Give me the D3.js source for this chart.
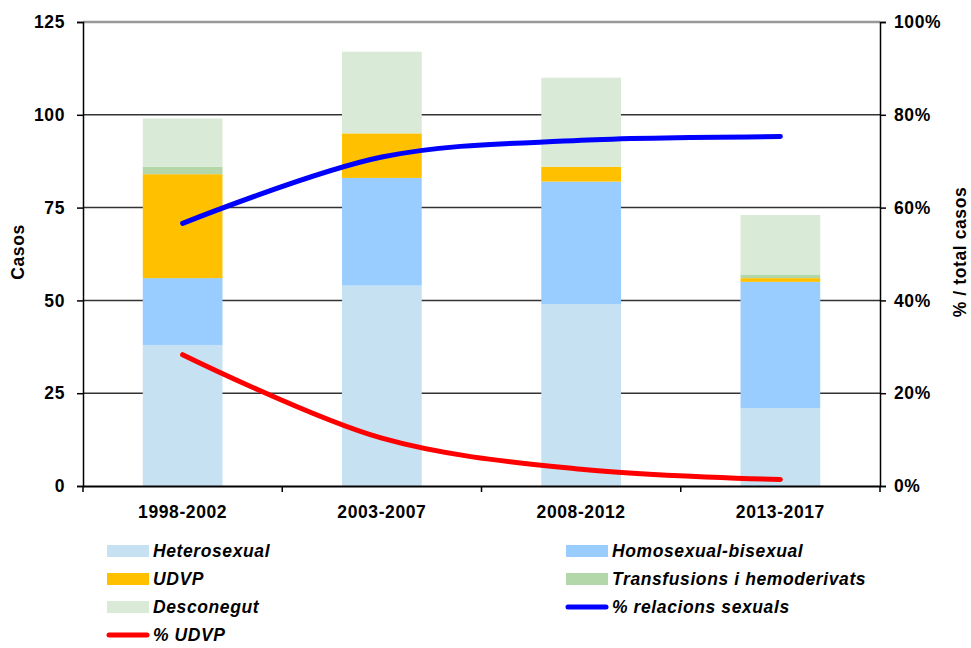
<!DOCTYPE html>
<html>
<head>
<meta charset="utf-8">
<script src="https://d3js.org/d3.v7.min.js"></script>
<style>
  body { margin: 0; background: #fff; }
  svg { font-family: "Liberation Sans", Arial, sans-serif; }
</style>
</head>
<body>
<svg width="971" height="648"></svg>
<script>
// data
var periods = ["1998-2002", "2003-2007", "2008-2012", "2013-2017"];
var heterosexual = [38, 54, 49, 21];
var homosexual = [18, 29, 33, 34];
var udvp = [28, 12, 4, 1];
var transfusions = [2, 0, 0, 1];
var desconegut = [13, 22, 24, 16];
var pctSexual = [56.6, 70.9, 74.5, 75.3];
var pctUdvp = [28.3, 10.3, 3.6, 1.4];
var leftTicks = [0, 25, 50, 75, 100, 125];
var rightTicks = [0, 20, 40, 60, 80, 100];

var series = [
    {name: "Heterosexual", values: heterosexual, color: "#c5e1f2"},
    {name: "Homosexual-bisexual", values: homosexual, color: "#99ccff"},
    {name: "UDVP", values: udvp, color: "#ffc000"},
    {name: "Transfusions i hemoderivats", values: transfusions, color: "#b4d7aa"},
    {name: "Desconegut", values: desconegut, color: "#d9ead6"}
];

var svg = d3.select("svg"),
    plotLeft = 83, plotRight = 880, plotTop = 22, plotBottom = 486,
    fontSize = 17.5, spacing = "0.6px";

var x = d3.scaleBand().domain(periods).range([plotLeft, plotRight]).paddingInner(0.6).paddingOuter(0.3);
var xb = d3.scaleBand().domain(periods).range([plotLeft, plotRight]);
var y = d3.scaleLinear().domain([0, 125]).range([plotBottom, plotTop]);
var y2 = d3.scaleLinear().domain([0, 100]).range([plotBottom, plotTop]);

// gridlines
svg.append("g")
    .selectAll("line")
    .data(leftTicks.filter(function (d) { return d > 0 && d < 125; }))
    .enter().append("line")
    .attr("x1", plotLeft).attr("x2", plotRight)
    .attr("y1", function (d) { return y(d); })
    .attr("y2", function (d) { return y(d); })
    .attr("stroke", "#333").attr("stroke-width", 1.5);

svg.append("line")
    .attr("x1", plotLeft).attr("x2", plotRight)
    .attr("y1", y(125)).attr("y2", y(125))
    .attr("stroke", "#999").attr("stroke-width", 2.5);

// stacked bars
var rows = periods.map(function (p, i) {
    var r = {period: p};
    series.forEach(function (s) { r[s.name] = s.values[i]; });
    return r;
});
var stack = d3.stack().keys(series.map(function (s) { return s.name; }))(rows);

svg.append("g")
    .selectAll("g")
    .data(stack)
    .enter().append("g")
    .attr("fill", function (d, i) { return series[i].color; })
    .selectAll("rect")
    .data(function (d) { return d; })
    .enter().append("rect")
    .attr("x", function (d) { return x(d.data.period); })
    .attr("width", x.bandwidth())
    .attr("y", function (d) { return y(d[1]); })
    .attr("height", function (d) { return y(d[0]) - y(d[1]); });

// axes
var yAxis = svg.append("g")
    .attr("transform", "translate(" + plotLeft + ",0)")
    .call(d3.axisLeft(y).tickValues(leftTicks).tickSize(6).tickPadding(12));
var yAxis2 = svg.append("g")
    .attr("transform", "translate(" + plotRight + ",0)")
    .call(d3.axisRight(y2).tickValues(rightTicks).tickSize(6).tickPadding(8)
        .tickFormat(function (d) { return d + "%"; }));
var xAxis = svg.append("g")
    .attr("transform", "translate(0," + plotBottom + ")")
    .call(d3.axisBottom(x).tickSize(0).tickPadding(20));

[yAxis, yAxis2, xAxis].forEach(function (g) {
    g.selectAll("text").attr("font-size", fontSize).attr("font-weight", "bold").attr("fill", "#000")
        .attr("letter-spacing", spacing)
        .attr("font-family", "Liberation Sans, Arial, sans-serif");
    g.selectAll("path, line").attr("stroke", "#000").attr("stroke-width", 1.5);
});
xAxis.select(".domain").attr("stroke-width", 2);

// category separator ticks
svg.append("g")
    .selectAll("line")
    .data(periods.concat(["end"]))
    .enter().append("line")
    .attr("x1", function (d) { return d === "end" ? plotRight : xb(d); })
    .attr("x2", function (d) { return d === "end" ? plotRight : xb(d); })
    .attr("y1", plotBottom).attr("y2", plotBottom + 6)
    .attr("stroke", "#000").attr("stroke-width", 1.5);

// lines
var line = d3.line()
    .x(function (d, i) { return x(periods[i]) + x.bandwidth() / 2; })
    .y(function (d) { return y2(d); })
    .curve(d3.curveCatmullRom.alpha(0.5));

svg.append("path").datum(pctSexual).attr("d", line)
    .attr("fill", "none").attr("stroke", "#0000ff").attr("stroke-width", 5).attr("stroke-linecap", "round");
svg.append("path").datum(pctUdvp).attr("d", line)
    .attr("fill", "none").attr("stroke", "#ff0000").attr("stroke-width", 5).attr("stroke-linecap", "round");

// axis titles
svg.append("text")
    .attr("transform", "translate(24,252) rotate(-90)")
    .attr("text-anchor", "middle").attr("font-size", fontSize).attr("font-weight", "bold")
    .attr("letter-spacing", spacing)
    .text("Casos");
svg.append("text")
    .attr("transform", "translate(966,252) rotate(-90)")
    .attr("text-anchor", "middle").attr("font-size", fontSize).attr("font-weight", "bold")
    .attr("letter-spacing", spacing)
    .text("% / total casos");

// legend
var legendItems = [
    {name: "Heterosexual", color: series[0].color, type: "rect", col: 0, row: 0},
    {name: "Homosexual-bisexual", color: series[1].color, type: "rect", col: 1, row: 0},
    {name: "UDVP", color: series[2].color, type: "rect", col: 0, row: 1},
    {name: "Transfusions i hemoderivats", color: series[3].color, type: "rect", col: 1, row: 1},
    {name: "Desconegut", color: series[4].color, type: "rect", col: 0, row: 2},
    {name: "% relacions sexuals", color: "#0000ff", type: "line", col: 1, row: 2},
    {name: "% UDVP", color: "#ff0000", type: "line", col: 0, row: 3}
];

var legend = svg.append("g")
    .selectAll("g")
    .data(legendItems)
    .enter().append("g")
    .attr("transform", function (d) {
        return "translate(" + (d.col ? 566 : 107) + "," + (551 + d.row * 28) + ")";
    });

legend.filter(function (d) { return d.type === "rect"; })
    .append("rect")
    .attr("x", 0).attr("y", -6).attr("width", 42).attr("height", 12)
    .attr("fill", function (d) { return d.color; });

legend.filter(function (d) { return d.type === "line"; })
    .append("line")
    .attr("x1", 2).attr("x2", 40).attr("y1", 0).attr("y2", 0)
    .attr("stroke", function (d) { return d.color; })
    .attr("stroke-width", 5).attr("stroke-linecap", "round");

legend.append("text")
    .attr("x", 46).attr("y", 0).attr("dy", "0.35em")
    .attr("font-size", fontSize).attr("font-weight", "bold").attr("font-style", "italic")
    .attr("letter-spacing", spacing)
    .text(function (d) { return d.name; });
</script>
</body>
</html>
